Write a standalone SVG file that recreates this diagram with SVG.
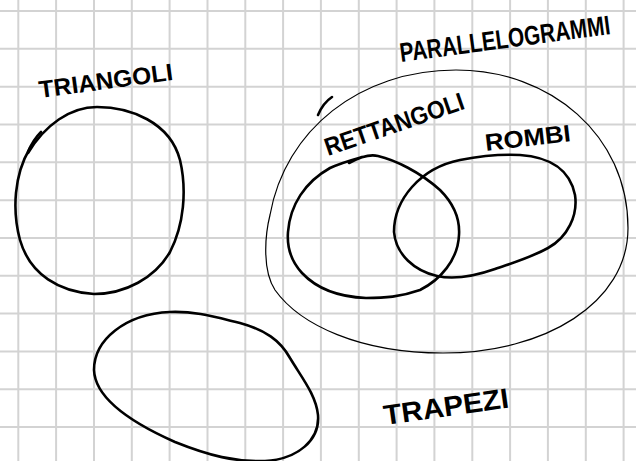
<svg xmlns="http://www.w3.org/2000/svg" width="636" height="461" viewBox="0 0 636 461">
<style>
.grid{stroke:#d3d3d3;stroke-width:2;fill:none}
.ink{stroke:#000;stroke-width:2.6;fill:none;stroke-linecap:round;stroke-linejoin:round}
.thin{stroke:#000;stroke-width:1.2;fill:none;stroke-linecap:round}
.lbl{font-family:"Liberation Sans",Arial,sans-serif;font-weight:bold;fill:#000}
</style>
<rect width="636" height="461" fill="#fff"/>
<path class="grid" d="M18.3 0V461M56.1 0V461M94 0V461M131.8 0V461M169.6 0V461M207.5 0V461M245.3 0V461M283.1 0V461M320.9 0V461M358.8 0V461M396.6 0V461M434.4 0V461M472.3 0V461M510.1 0V461M547.9 0V461M585.8 0V461M623.6 0V461M0 11H636M0 48.8H636M0 86.7H636M0 124.5H636M0 162.3H636M0 200.2H636M0 238H636M0 275.8H636M0 313.6H636M0 351.5H636M0 389.3H636M0 427.1H636"/>
<g id="connectors"/>
<g id="parallelogrammi">
<path class="thin" d="M456,70 C550,70 628,135 628,228 C628,303 545,353 443,353 C360,353 300,325 275,290 C262,270 265,235 270,215 C285,130 360,70 456,70 Z"/>
<path class="ink" d="M318,115 Q323,103 332,97" stroke-width="2.2"/>
<text class="lbl" font-size="27" transform="translate(401,62) rotate(-7.6)" textLength="212" lengthAdjust="spacingAndGlyphs">PARALLELOGRAMMI</text>
</g>
<g id="triangoli">
<path class="ink" d="M28,153 C45,125 70,107 97,107 C130,107 170,122 180,160 C187,190 184,225 170,252 C155,278 125,294 94,294 C60,292 30,275 20,240 C12,210 14,175 30,148"/>
<path class="ink" d="M28,152 Q33,140 41,132" stroke-width="3.4"/>
<text class="lbl" font-size="24" transform="translate(40,98) rotate(-7.7)" textLength="135" lengthAdjust="spacingAndGlyphs">TRIANGOLI</text>
</g>
<g id="rettangoli">
<path class="ink" d="M349,163 C360,157 370,154 378,156 C395,160 420,172 440,190 C455,205 460,220 459,235 C458,260 440,280 420,290 C400,297 385,298 366,298 C340,297 318,290 302,273 C290,260 287,245 288,232 C290,205 305,182 330,168 C340,163 355,159 362,157"/>
<text class="lbl" font-size="25" transform="translate(328,156) rotate(-19)" textLength="146" lengthAdjust="spacingAndGlyphs">RETTANGOLI</text>
</g>
<g id="rombi">
<path class="ink" d="M394,232 C394,200 420,168 460,160 C480,156 500,154 520,155 C550,157 570,170 575,195 C578,215 568,237 548,248 C530,258 512,263 495,269 C475,276 455,280 437,276 C415,271 396,255 394,232 Z"/>
<text class="lbl" font-size="24" transform="translate(486,151) rotate(-6.6)" textLength="86" lengthAdjust="spacingAndGlyphs">ROMBI</text>
</g>
<g id="trapezi">
<path class="ink" d="M290,358 C280,340 265,330 240,323 C215,317 195,311 170,312 C125,314 94,340 94,370 C95,398 130,422 175,442 C210,456 235,462 265,461 C298,459 320,440 318,415 C316,395 302,378 290,358 Z"/>
<text class="lbl" font-size="28" transform="translate(385,425) rotate(-8)" textLength="126" lengthAdjust="spacingAndGlyphs">TRAPEZI</text>
</g>
</svg>
